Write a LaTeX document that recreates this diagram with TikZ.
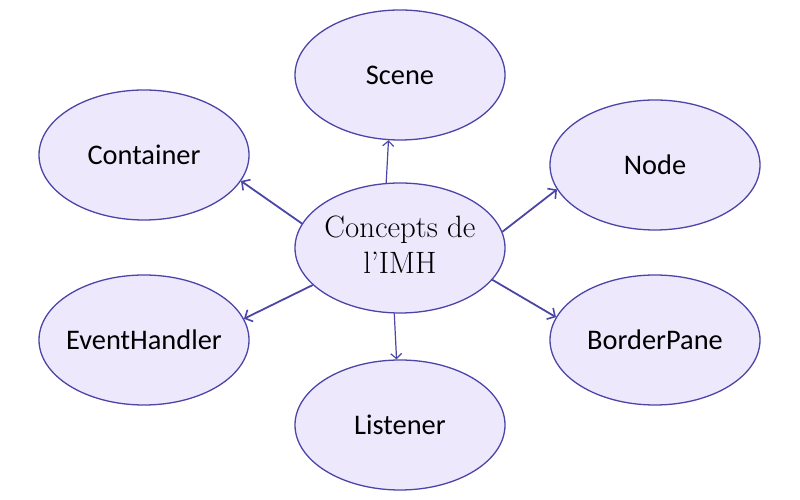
\documentclass[tikz,border=0pt]{standalone}
\usepackage{fontspec}
\newfontfamily\carlito{Carlito}
\usetikzlibrary{shapes.geometric,arrows.meta}
\definecolor{ellfill}{HTML}{EEE8FD}
\definecolor{ellline}{HTML}{4B45A8}
\tikzset{
  bubble/.style={ellipse, draw=ellline, fill=ellfill, line width=1.3bp,
    minimum width=210bp, minimum height=130bp, inner sep=0pt,
    font=\carlito\fontsize{28.5}{34}\selectfont, text=black},
  hub/.style={bubble, font=\fontsize{31}{36}\selectfont},
  link/.style={draw=ellline, line width=1.2bp,
    -{Straight Barb[length=5bp,width=11bp,line width=1.2bp]}},
  linkthick/.style={draw=ellline, line width=1.8bp,
    -{Straight Barb[length=6bp,width=13bp,line width=1.6bp]}}
}
\begin{document}
\begin{tikzpicture}[x=1bp,y=1bp]
\useasboundingbox (0,0) rectangle (800,500);
\node[hub] (c) at (400,252) {\makebox[0pt]{\begin{tabular}{@{}c@{}}Concepts de\\ l’IMH\end{tabular}}};
\node[bubble] (scene) at (400,425) {\makebox[0pt]{Scene}};
\node[bubble] (cont) at (144,345) {\makebox[0pt]{Container}};
\node[bubble] (nodeb) at (655,335) {\makebox[0pt]{Node}};
\node[bubble] (ev) at (144,160) {\makebox[0pt]{EventHandler}};
\node[bubble] (bp) at (655,160) {\makebox[0pt]{BorderPane}};
\node[bubble] (lis) at (400,75) {\makebox[0pt]{Listener}};
\draw[link] (c.102) -- (scene.-100);
\draw[link] (c.-95) -- (lis.93.5);
\draw[linkthick] (c.166) -- (cont.-15);
\draw[linkthick] (c.9) -- (nodeb.194);
\draw[linkthick] (c.-19) -- (bp.167);
\draw[linkthick] (c.203) -- (ev.12);
\end{tikzpicture}
\end{document}
